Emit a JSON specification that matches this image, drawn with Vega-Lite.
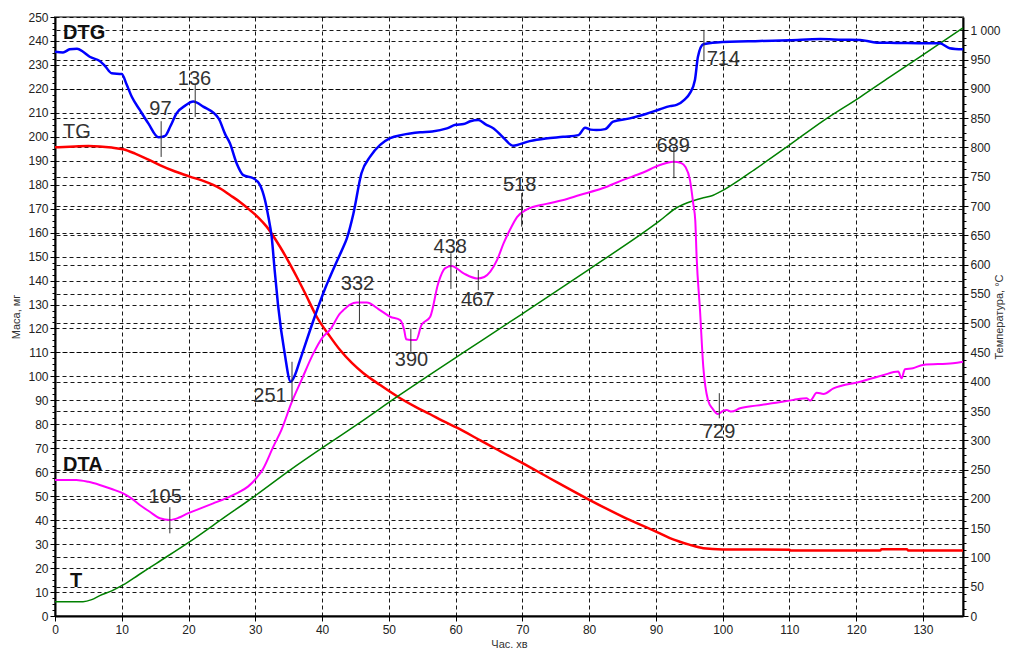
{
  "$schema": "https://vega.github.io/schema/vega-lite/v6.json",
  "width": 908,
  "height": 599,
  "autosize": {"type": "none"},
  "padding": {"left": 55, "top": 17, "right": 56, "bottom": 37},
  "background": "white",
  "config": {
    "view": {"stroke": "#808080", "strokeWidth": 2},
    "font": "Liberation Sans",
    "axis": {
      "labelFont": "Liberation Sans",
      "labelFontSize": 12,
      "labelColor": "#222",
      "titleFont": "Liberation Sans",
      "titleFontSize": 11,
      "titleFontWeight": "normal",
      "titleColor": "#333",
      "domainColor": "black",
      "domainWidth": 2,
      "tickColor": "black",
      "tickWidth": 1,
      "gridColor": "black",
      "gridDash": [4, 3],
      "gridWidth": 1,
      "labelOverlap": false,
      "labelFlush": false
    }
  },
  "datasets": {
    "DTG": [
      {"x":0,"y":235.5},{"x":1.2,"y":235.2},{"x":2.2,"y":236.5},{"x":3.3,"y":236.8},{"x":4.2,"y":235.5},{"x":5.2,"y":233.4},{"x":6.7,"y":231.6},{"x":7.5,"y":229.5},{"x":8.5,"y":226.5},{"x":10,"y":226.2},{"x":10.7,"y":222},{"x":11.5,"y":216.7},{"x":12.7,"y":211.2},{"x":14,"y":205.5},{"x":15.5,"y":199.8},{"x":16.5,"y":200.4},{"x":17.3,"y":204.5},{"x":18.2,"y":209.8},{"x":19.5,"y":213},{"x":20.7,"y":214.7},{"x":22.2,"y":212.6},{"x":24.5,"y":207.7},{"x":25.5,"y":201},{"x":26.2,"y":197.3},{"x":27.2,"y":189},{"x":28.2,"y":184},{"x":29.7,"y":182.7},{"x":30.7,"y":179.9},{"x":31.45,"y":173.6},{"x":31.95,"y":166.7},{"x":32.45,"y":158.3},{"x":32.9,"y":144.4},{"x":33.4,"y":130},{"x":34.4,"y":109.6},{"x":35.3,"y":97.8},{"x":36,"y":101},{"x":36.7,"y":106.8},{"x":38.9,"y":124.9},{"x":40.5,"y":137},{"x":41.2,"y":141.6},{"x":42.7,"y":151},{"x":43.2,"y":154.1},{"x":43.7,"y":157.5},{"x":44.7,"y":168},{"x":45.9,"y":184.8},{"x":47.2,"y":191.7},{"x":48.7,"y":196.6},{"x":50.2,"y":199.4},{"x":52,"y":200.8},{"x":54.7,"y":201.9},{"x":56.5,"y":202.2},{"x":58.7,"y":203.5},{"x":60,"y":205},{"x":61.2,"y":205.3},{"x":62.2,"y":206.5},{"x":63.4,"y":207},{"x":64.5,"y":205.2},{"x":65.7,"y":203.5},{"x":67.2,"y":199.5},{"x":68.6,"y":196.3},{"x":71.1,"y":198.2},{"x":73.5,"y":199.3},{"x":76.1,"y":200},{"x":78.4,"y":200.7},{"x":79.4,"y":203.8},{"x":80.2,"y":203},{"x":81.1,"y":202.8},{"x":82.4,"y":203.2},{"x":83.6,"y":206.3},{"x":86.1,"y":207.7},{"x":88.5,"y":209.5},{"x":90.6,"y":211.5},{"x":92.1,"y":212.8},{"x":93.1,"y":213.3},{"x":94.3,"y":215.5},{"x":95.1,"y":218.2},{"x":95.85,"y":223.7},{"x":96.3,"y":233.4},{"x":97.1,"y":238.6},{"x":99.1,"y":239.4},{"x":105.6,"y":240},{"x":110,"y":240.3},{"x":114.6,"y":240.8},{"x":118,"y":240.5},{"x":120.6,"y":240.4},{"x":123.1,"y":239.3},{"x":126,"y":239.2},{"x":130.5,"y":239},{"x":132.5,"y":239},{"x":134,"y":237},{"x":136,"y":236.5}
    ],
    "TG": [
      {"x":0,"y":195.6},{"x":3,"y":196},{"x":5,"y":196.2},{"x":6.7,"y":196},{"x":8.5,"y":195.5},{"x":10.2,"y":194.8},{"x":12,"y":193},{"x":14,"y":190.5},{"x":15.7,"y":188.2},{"x":18,"y":185.5},{"x":20.2,"y":183.4},{"x":22,"y":181.8},{"x":23.7,"y":179.9},{"x":25,"y":178},{"x":26.2,"y":175.7},{"x":27.7,"y":172.8},{"x":29.2,"y":169.4},{"x":30.5,"y":166.2},{"x":31.7,"y":162.5},{"x":33.7,"y":154.1},{"x":36.2,"y":141.6},{"x":37.5,"y":134.5},{"x":39.2,"y":124.9},{"x":41.2,"y":116.6},{"x":42.7,"y":111},{"x":44.5,"y":105.5},{"x":46.2,"y":101.3},{"x":48.7,"y":96.4},{"x":51.7,"y":90.9},{"x":54,"y":87.3},{"x":56.2,"y":84.2},{"x":58,"y":81.5},{"x":60.2,"y":78.6},{"x":63.7,"y":73.3},{"x":66,"y":69.8},{"x":70.1,"y":63.7},{"x":74.1,"y":57.5},{"x":80.1,"y":48.4},{"x":85,"y":41.5},{"x":90.6,"y":34.5},{"x":92.1,"y":32.5},{"x":93.6,"y":31},{"x":95,"y":29.8},{"x":97.1,"y":28.3},{"x":100,"y":27.8},{"x":110,"y":27.7},{"x":110.2,"y":27.3},{"x":123.6,"y":27.3},{"x":123.8,"y":27.9},{"x":127.6,"y":27.9},{"x":127.8,"y":27.3},{"x":136,"y":27.3}
    ],
    "DTA": [
      {"x":0,"y":56.8},{"x":3.2,"y":56.8},{"x":5,"y":56},{"x":6.7,"y":54.7},{"x":8.5,"y":53},{"x":10.2,"y":51.2},{"x":11.5,"y":49},{"x":12.7,"y":46.3},{"x":14.2,"y":43.5},{"x":15.7,"y":40.8},{"x":17.2,"y":40.1},{"x":18.5,"y":41},{"x":19.7,"y":42.6},{"x":21.7,"y":44.8},{"x":23.7,"y":47},{"x":25.5,"y":49},{"x":27.2,"y":51.2},{"x":28.9,"y":54},{"x":30,"y":57},{"x":31.2,"y":61.6},{"x":32.7,"y":70.7},{"x":33.9,"y":77.6},{"x":35.4,"y":88.8},{"x":37,"y":99},{"x":38.7,"y":109.6},{"x":40,"y":116},{"x":41.2,"y":119.5},{"x":42.7,"y":126.3},{"x":43.2,"y":127.7},{"x":44.2,"y":130},{"x":45.2,"y":130.8},{"x":46.7,"y":130.8},{"x":48.5,"y":128},{"x":50.2,"y":124.9},{"x":51.7,"y":123.5},{"x":52.3,"y":119.4},{"x":52.6,"y":115.5},{"x":53.3,"y":115.2},{"x":54.1,"y":115.2},{"x":54.9,"y":121.5},{"x":56.2,"y":124.9},{"x":57.4,"y":138.9},{"x":58.4,"y":145.1},{"x":59.4,"y":146.1},{"x":61.2,"y":143},{"x":63.2,"y":140.9},{"x":64.3,"y":141.5},{"x":65.2,"y":143.7},{"x":66.2,"y":148.5},{"x":67.2,"y":155.6},{"x":68.2,"y":161.5},{"x":69.2,"y":166.5},{"x":70.7,"y":169.7},{"x":73.6,"y":172},{"x":76,"y":173.5},{"x":78.6,"y":175.7},{"x":82,"y":178.5},{"x":85.1,"y":182},{"x":88,"y":185},{"x":90.6,"y":188.2},{"x":92.6,"y":189.6},{"x":93.8,"y":189},{"x":94.4,"y":187.5},{"x":95.1,"y":182},{"x":95.6,"y":172},{"x":95.9,"y":165},{"x":96.1,"y":150},{"x":96.6,"y":128},{"x":97.1,"y":104},{"x":97.8,"y":90.2},{"x":98.5,"y":86.5},{"x":99.3,"y":84.3},{"x":100,"y":85.5},{"x":100.6,"y":86},{"x":101.3,"y":85.3},{"x":102.6,"y":86.7},{"x":105,"y":87.8},{"x":108,"y":89},{"x":110.6,"y":90.2},{"x":112.6,"y":90.9},{"x":113.1,"y":89.9},{"x":114.1,"y":93.2},{"x":115.1,"y":92.7},{"x":116.6,"y":95},{"x":120.6,"y":97.8},{"x":124,"y":100.5},{"x":126.3,"y":102},{"x":126.8,"y":99.2},{"x":127.3,"y":103},{"x":128.5,"y":103.4},{"x":130,"y":104.8},{"x":134.5,"y":105.5},{"x":136,"y":106.1}
    ],
    "T": [
      {"x":0,"t":24.5},{"x":4.2,"t":24.5},{"x":5.5,"t":28},{"x":6.7,"t":34.8},{"x":8.5,"t":43},{"x":10.2,"t":53},{"x":12.5,"t":70},{"x":15.2,"t":90},{"x":20.2,"t":127},{"x":25.2,"t":167},{"x":30.2,"t":207},{"x":35.2,"t":249},{"x":41.2,"t":296},{"x":45,"t":325},{"x":51.2,"t":374},{"x":56,"t":411},{"x":61.2,"t":450},{"x":70,"t":516},{"x":80,"t":592},{"x":90.6,"t":675},{"x":93.1,"t":697},{"x":95.6,"t":709},{"x":97.1,"t":714},{"x":98.5,"t":718},{"x":99.6,"t":724},{"x":105,"t":764},{"x":110,"t":804},{"x":115,"t":845},{"x":120.6,"t":886},{"x":125,"t":920},{"x":130,"t":958},{"x":136,"t":1004}
    ],
    "ticks": [
      {"x":15.9,"y1":191.6,"y2":206.5},{"x":21.0,"y1":208.3,"y2":221.6},{"x":35.5,"y1":89.4,"y2":106.1},{"x":45.6,"y1":122.2,"y2":134.9},{"x":53.3,"y1":110.3,"y2":120},{"x":59.3,"y1":136.5,"y2":151.4},{"x":63.4,"y1":136,"y2":144.4},{"x":69.9,"y1":162.5,"y2":176.5},{"x":92.7,"y1":182.7,"y2":195.3},{"x":97.2,"y1":231.4,"y2":244.6},{"x":99.5,"y1":82.5,"y2":93},{"x":17.2,"y1":34.5,"y2":45.4}
    ],
    "labels": [
      {"x":15.8,"y":211.5,"t":"97"},{"x":20.9,"y":224.3,"t":"136"},{"x":32.2,"y":91.8,"t":"251"},{"x":45.3,"y":138.7,"t":"332"},{"x":53.4,"y":106.8,"t":"390"},{"x":59.2,"y":154.2,"t":"438"},{"x":63.3,"y":131.9,"t":"467"},{"x":69.6,"y":179.9,"t":"518"},{"x":92.6,"y":196.3,"t":"689"},{"x":100.1,"y":232.5,"t":"714"},{"x":99.4,"y":76.8,"t":"729"},{"x":16.5,"y":49.7,"t":"105"}
    ],
    "names": [
      {"x":1.2,"y":243.5,"t":"DTG","b":1},{"x":1.2,"y":201.8,"t":"TG","b":0},{"x":1.2,"y":63.2,"t":"DTA","b":1},{"x":2.25,"y":14.8,"t":"T","b":1}
    ]
  },
  "layer": [
    {
      "data": {"name": "TG"},
      "mark": {"type": "line", "color": "#FF0000", "strokeWidth": 2.5, "interpolate": "monotone"},
      "encoding": {
        "x": {
          "field": "x", "type": "quantitative",
          "scale": {"domain": [0, 136], "nice": false},
          "axis": {
            "title": "Час. хв",
            "titlePadding": 3,
            "values": [0,2.5,5,7.5,10,12.5,15,17.5,20,22.5,25,27.5,30,32.5,35,37.5,40,42.5,45,47.5,50,52.5,55,57.5,60,62.5,65,67.5,70,72.5,75,77.5,80,82.5,85,87.5,90,92.5,95,97.5,100,102.5,105,107.5,110,112.5,115,117.5,120,122.5,125,127.5,130,132.5,135],
            "labelExpr": "datum.value % 10 === 0 ? format(datum.value, 'd') : ''",
            "labelPadding": 3,
            "tickSize": {"condition": {"test": "datum.value % 10 === 0", "value": 5}, "value": 3},
            "grid": true,
            "gridOpacity": {"condition": {"test": "datum.value % 10 === 0 && datum.value > 0", "value": 0.9}, "value": 0}
          }
        },
        "y": {
          "field": "y", "type": "quantitative",
          "scale": {"domain": [0, 250], "nice": false},
          "axis": {
            "orient": "left",
            "title": "Маса, мг",
            "titlePadding": 6,
            "values": [0,2.5,5,7.5,10,12.5,15,17.5,20,22.5,25,27.5,30,32.5,35,37.5,40,42.5,45,47.5,50,52.5,55,57.5,60,62.5,65,67.5,70,72.5,75,77.5,80,82.5,85,87.5,90,92.5,95,97.5,100,102.5,105,107.5,110,112.5,115,117.5,120,122.5,125,127.5,130,132.5,135,137.5,140,142.5,145,147.5,150,152.5,155,157.5,160,162.5,165,167.5,170,172.5,175,177.5,180,182.5,185,187.5,190,192.5,195,197.5,200,202.5,205,207.5,210,212.5,215,217.5,220,222.5,225,227.5,230,232.5,235,237.5,240,242.5,245,247.5,250],
            "labelExpr": "datum.value % 10 === 0 ? format(datum.value, 'd') : ''",
            "labelPadding": 2,
            "tickSize": {"condition": {"test": "datum.value % 10 === 0", "value": 5}, "value": 3},
            "grid": true,
            "gridOpacity": {"condition": {"test": "datum.value % 10 === 0", "value": 0.9}, "value": 0}
          }
        }
      }
    },
    {
      "data": {"name": "T"},
      "mark": {"type": "line", "color": "#008000", "strokeWidth": 1.5, "interpolate": "monotone"},
      "encoding": {
        "x": {"field": "x", "type": "quantitative"},
        "y": {
          "field": "t", "type": "quantitative",
          "scale": {"domain": [0, 1022.7], "nice": false, "zero": false},
          "axis": {
            "orient": "right",
            "title": "Температура, °С",
            "titleAngle": 270,
            "titlePadding": 4,
            "values": [0,12.5,25,37.5,50,62.5,75,87.5,100,112.5,125,137.5,150,162.5,175,187.5,200,212.5,225,237.5,250,262.5,275,287.5,300,312.5,325,337.5,350,362.5,375,387.5,400,412.5,425,437.5,450,462.5,475,487.5,500,512.5,525,537.5,550,562.5,575,587.5,600,612.5,625,637.5,650,662.5,675,687.5,700,712.5,725,737.5,750,762.5,775,787.5,800,812.5,825,837.5,850,862.5,875,887.5,900,912.5,925,937.5,950,962.5,975,987.5,1000],
            "labelExpr": "datum.value % 50 === 0 ? (datum.value === 1000 ? '1 000' : format(datum.value, 'd')) : ''",
            "labelPadding": 2,
            "tickSize": {"condition": {"test": "datum.value % 50 === 0", "value": 5}, "value": 3},
            "grid": true,
            "gridOpacity": {"condition": {"test": "datum.value % 50 === 0", "value": 0.9}, "value": 0}
          }
        }
      }
    },
    {
      "data": {"name": "DTA"},
      "mark": {"type": "line", "color": "#FF00FF", "strokeWidth": 2, "interpolate": "monotone"},
      "encoding": {
        "x": {"field": "x", "type": "quantitative"},
        "y": {"field": "y", "type": "quantitative", "scale": {"domain": [0, 250], "nice": false}, "axis": null}
      }
    },
    {
      "data": {"name": "DTG"},
      "mark": {"type": "line", "color": "#0000FF", "strokeWidth": 2.5, "interpolate": "monotone"},
      "encoding": {
        "x": {"field": "x", "type": "quantitative"},
        "y": {"field": "y", "type": "quantitative", "scale": {"domain": [0, 250], "nice": false}, "axis": null}
      }
    },
    {
      "data": {"name": "ticks"},
      "mark": {"type": "rule", "color": "#333", "strokeWidth": 1},
      "encoding": {
        "x": {"field": "x", "type": "quantitative"},
        "y": {"field": "y1", "type": "quantitative", "scale": {"domain": [0, 250], "nice": false}, "axis": null},
        "y2": {"field": "y2"}
      }
    },
    {
      "data": {"name": "labels"},
      "mark": {"type": "text", "color": "#333", "fontSize": 20, "font": "Liberation Sans", "align": "center", "baseline": "middle"},
      "encoding": {
        "x": {"field": "x", "type": "quantitative"},
        "y": {"field": "y", "type": "quantitative", "scale": {"domain": [0, 250], "nice": false}, "axis": null},
        "text": {"field": "t"}
      }
    },
    {
      "data": {"name": "names"},
      "transform": [{"filter": "datum.b == 1"}],
      "mark": {"type": "text", "color": "#111", "fontSize": 20, "fontWeight": "bold", "font": "Liberation Sans", "align": "left", "baseline": "middle"},
      "encoding": {
        "x": {"field": "x", "type": "quantitative"},
        "y": {"field": "y", "type": "quantitative", "scale": {"domain": [0, 250], "nice": false}, "axis": null},
        "text": {"field": "t"}
      }
    },
    {
      "data": {"name": "names"},
      "transform": [{"filter": "datum.b == 0"}],
      "mark": {"type": "text", "color": "#333", "fontSize": 20, "font": "Liberation Sans", "align": "left", "baseline": "middle"},
      "encoding": {
        "x": {"field": "x", "type": "quantitative"},
        "y": {"field": "y", "type": "quantitative", "scale": {"domain": [0, 250], "nice": false}, "axis": null},
        "text": {"field": "t"}
      }
    }
  ],
  "resolve": {"scale": {"y": "independent"}}
}
